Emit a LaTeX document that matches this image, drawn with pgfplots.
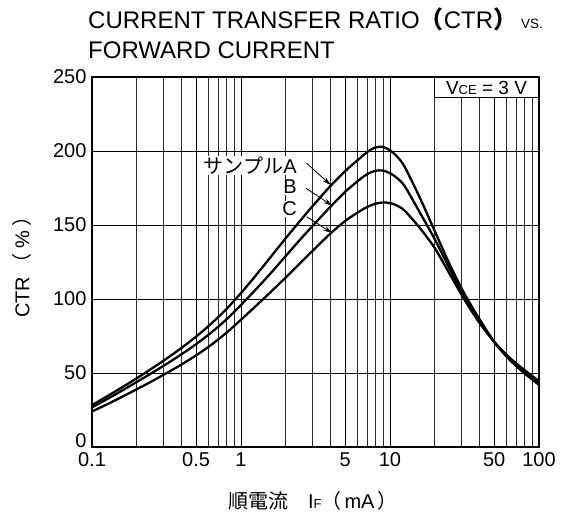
\documentclass[border=0pt]{standalone}
\usepackage{fontspec}
\setmainfont{Liberation Sans}
\newfontfamily\cjk{Noto Sans CJK JP}
\usepackage{pgfplots}
\pgfplotsset{compat=1.18}
\usepackage{pgfplotstable}
\usetikzlibrary{arrows.meta}

\pgfplotstableread{
x       A      B      C
0.1     28.3   26.8   24.0
0.1259  34.2   32.3   28.8
0.1585  40.2   38.0   33.8
0.1995  46.4   43.9   39.0
0.2512  52.9   49.9   44.3
0.3162  59.7   56.1   49.9
0.3981  66.9   62.6   55.7
0.5012  74.7   69.6   62.0
0.631   83.3   77.3   69.0
0.7943  93.0   86.0   77.0
1.0     104.0  96.0   86.0
1.259   116.0  106.5  95.3
1.585   128.5  117.5  104.8
1.995   141.0  129.0  114.5
2.512   153.2  140.5  124.5
3.162   165.0  151.5  134.5
3.981   176.3  162.3  144.2
5.012   186.5  172.5  152.8
6.31    195.3  181.0  159.5
7.079   199.5  184.5  162.3
7.943   202.3  186.6  164.3
8.913   202.8  186.8  165.2
10.0    200.5  185.0  164.8
11.22   196.0  181.5  163.0
12.59   189.0  176.0  159.5
15.85   168.5  158.5  148.0
19.95   146.0  140.5  134.5
25.12   123.5  120.5  117.0
31.62   103.5  101.5  99.5
39.81   86.5   85.3   84.0
50.12   71.0   71.0   71.0
63.1    59.2   60.0   60.6
79.43   50.0   51.3   52.2
100     42.0   43.3   44.5
}\ctrdata

\begin{document}
\begin{tikzpicture}[x=1pt,y=1pt]
\useasboundingbox (0,0) rectangle (564,529);
\node[anchor=base west, inner sep=0pt, font=\fontsize{24}{28}\selectfont] at (88,500)
  {CURRENT TRANSFER RATIO{\cjk\bfseries （}CTR{\cjk\bfseries ）}\,{\fontsize{13.5}{15}\selectfont VS.}};
\node[anchor=base west, inner sep=0pt, font=\fontsize{24}{28}\selectfont] at (88,470)
  {FORWARD CURRENT};
\begin{axis}[
  at={(92pt,82pt)}, anchor=south west,
  scale only axis, width=447pt, height=370pt,
  xmode=log, log basis x=10,
  xmin=0.1, xmax=100, ymin=0, ymax=250,
  xtick={0.1,0.5,1,5,10,50,100},
  xticklabels={0.1,0.5,1,5,10,50,100},
  minor xtick={0.2,0.3,0.4,0.6,0.7,0.8,0.9,2,3,4,6,7,8,9,20,30,40,60,70,80,90},
  ytick={50,100,150,200,250},
  extra y ticks={0},
  extra y tick style={yticklabel style={yshift=6pt}, grid=none},
  major tick length=0pt, minor tick length=0pt,
  grid=both,
  major grid style={black, line width=0.9pt},
  minor grid style={black!85, line width=0.7pt},
  axis line style={black, line width=1.3pt},
  /pgf/number format/assume math mode=true,
  tick label style={font=\fontsize{20}{24}\selectfont},
  xticklabel style={yshift=-2pt},
  yticklabel style={xshift=-2pt},
  xlabel={{\cjk 順電流}\hspace{20pt}I{\fontsize{13}{15}\selectfont F}{\cjk （}\hspace{3pt}mA\hspace{3pt}{\cjk ）}},
  xlabel style={font=\fontsize{20}{24}\selectfont, at={(axis description cs:0.494,-0.145)}, anchor=center},
  ylabel={CTR\hspace{3pt}{\cjk （}\hspace{5pt}\%\hspace{5pt}{\cjk ）}},
  ylabel style={font=\fontsize{20}{24}\selectfont, at={(axis description cs:-0.157,0.5)}, anchor=center},
]
\addplot[black, line width=2.3pt, smooth] table[x=x, y=A] {\ctrdata};
\addplot[black, line width=2.3pt, smooth] table[x=x, y=B] {\ctrdata};
\addplot[black, line width=2.3pt, smooth] table[x=x, y=C] {\ctrdata};

\node[anchor=east, fill=white, inner sep=1pt, font=\fontsize{20}{24}\selectfont] at (axis cs:2.41,190.2) {{\cjk サンプル}A};
\node[anchor=east, fill=white, inner sep=1pt, font=\fontsize{20}{24}\selectfont] at (axis cs:2.41,175.7) {B};
\node[anchor=east, fill=white, inner sep=1pt, font=\fontsize{20}{24}\selectfont] at (axis cs:2.41,160.8) {C};
\draw[-{Stealth[length=9pt,width=5pt]}, line width=0.8pt] (axis cs:2.76,191.7) -- (axis cs:4.0,177);
\draw[-{Stealth[length=9pt,width=5pt]}, line width=0.8pt] (axis cs:2.73,174.8) -- (axis cs:4.1,163);
\draw[-{Stealth[length=9pt,width=5pt]}, line width=0.8pt] (axis cs:2.76,155.6) -- (axis cs:4.1,144.5);

\node[draw, fill=white, line width=1pt, anchor=north east, minimum width=104pt, minimum height=20.5pt, inner sep=0pt, font=\fontsize{19}{22}\selectfont] at (rel axis cs:1,1) {V{\fontsize{13}{15}\selectfont CE} = 3 V};
\end{axis}
\end{tikzpicture}
\end{document}
